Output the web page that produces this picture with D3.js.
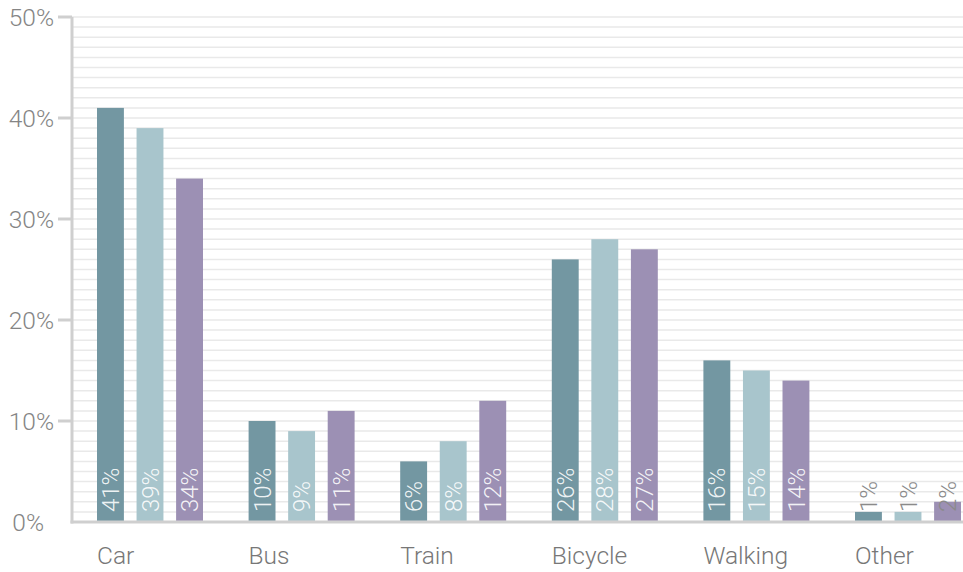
<!DOCTYPE html>
<html>
<head>
<meta charset="utf-8">
<script src="https://cdn.jsdelivr.net/npm/d3@7"></script>
<style>
  html, body { margin: 0; padding: 0; background: #fff; }
  svg { display: block; font-family: Roboto, "Liberation Sans", sans-serif; font-weight: 300; }
</style>
</head>
<body>
<svg id="chart" width="963" height="572"></svg>
<script>
// Travel mode shares for three groups
const categories = ["Car", "Bus", "Train", "Bicycle", "Walking", "Other"];
const seriesNames = ["Group A", "Group B", "Group C"];
const seriesA = [41, 10, 6, 26, 16, 1];
const seriesB = [39, 9, 8, 28, 15, 1];
const seriesC = [34, 11, 12, 27, 14, 2];
const seriesColors = ["#7397a2", "#a8c5cc", "#9c90b4"];
const yTicks = [0, 10, 20, 30, 40, 50];

const svg = d3.select("#chart");
const W = 963, H = 572;
const plotLeft = 72, plotBottom = 522, plotTop = 17;

const y = d3.scaleLinear().domain([0, 50]).range([plotBottom, plotTop]);
const x0 = d3.scaleBand().domain(categories).range([plotLeft + 25, plotLeft + 25 + 151.6 * categories.length]);
const x1 = d3.scaleBand().domain(seriesNames).range([0, 106]).paddingInner(0.32).paddingOuter(0);

// minor grid, one line per percent
const grid = d3.range(1, 51);
svg.append("g").selectAll("line").data(grid).join("line")
  .attr("x1", plotLeft).attr("x2", W)
  .attr("y1", d => y(d)).attr("y2", d => y(d))
  .attr("stroke", "#e9e9e9").attr("stroke-width", 1.5);

// bars
const rows = categories.map((c, i) => ({
  cat: c,
  vals: [seriesA[i], seriesB[i], seriesC[i]].map((v, k) => ({ key: seriesNames[k], v, k }))
}));

const groups = svg.append("g").selectAll("g").data(rows).join("g")
  .attr("transform", d => `translate(${x0(d.cat)},0)`);

groups.selectAll("rect").data(d => d.vals).join("rect")
  .attr("x", d => x1(d.key))
  .attr("width", x1.bandwidth())
  .attr("y", d => y(d.v))
  .attr("height", d => y(0) - y(d.v))
  .attr("fill", d => seriesColors[d.k]);

groups.selectAll("text.val").data(d => d.vals).join("text")
  .attr("class", "val")
  .attr("transform", d => `translate(${x1(d.key) + x1.bandwidth() / 2},${y(0) - 10}) rotate(-90)`)
  .attr("dy", "0.36em")
  .attr("text-anchor", "start")
  .attr("font-size", 24)
  .attr("fill", d => d.v >= 5 ? "rgba(255,255,255,0.9)" : "#8a8a8a")
  .text(d => d.v + "%");

// category labels
svg.append("g").selectAll("text").data(categories).join("text")
  .attr("x", d => x0(d))
  .attr("y", 564)
  .attr("font-size", 24.5)
  .attr("fill", "#777")
  .text(d => d);

// axes
const axisColor = "#cfcfcf";
svg.append("line")
  .attr("x1", plotLeft).attr("x2", plotLeft)
  .attr("y1", plotTop).attr("y2", plotBottom + 1.5)
  .attr("stroke", axisColor).attr("stroke-width", 3);
svg.append("line")
  .attr("x1", plotLeft - 1.5).attr("x2", W)
  .attr("y1", plotBottom).attr("y2", plotBottom)
  .attr("stroke", axisColor).attr("stroke-width", 3);

const yt = svg.append("g");
yt.selectAll("line").data(yTicks.filter(d => d > 0)).join("line")
  .attr("x1", 58).attr("x2", plotLeft)
  .attr("y1", d => y(d)).attr("y2", d => y(d))
  .attr("stroke", axisColor).attr("stroke-width", 3);
yt.selectAll("text").data(yTicks).join("text")
  .attr("x", d => d === 0 ? 44 : 54)
  .attr("y", d => y(d))
  .attr("dy", "0.36em")
  .attr("text-anchor", "end")
  .attr("font-size", 24.5)
  .attr("fill", "#858585")
  .text(d => d + "%");
</script>
</body>
</html>
